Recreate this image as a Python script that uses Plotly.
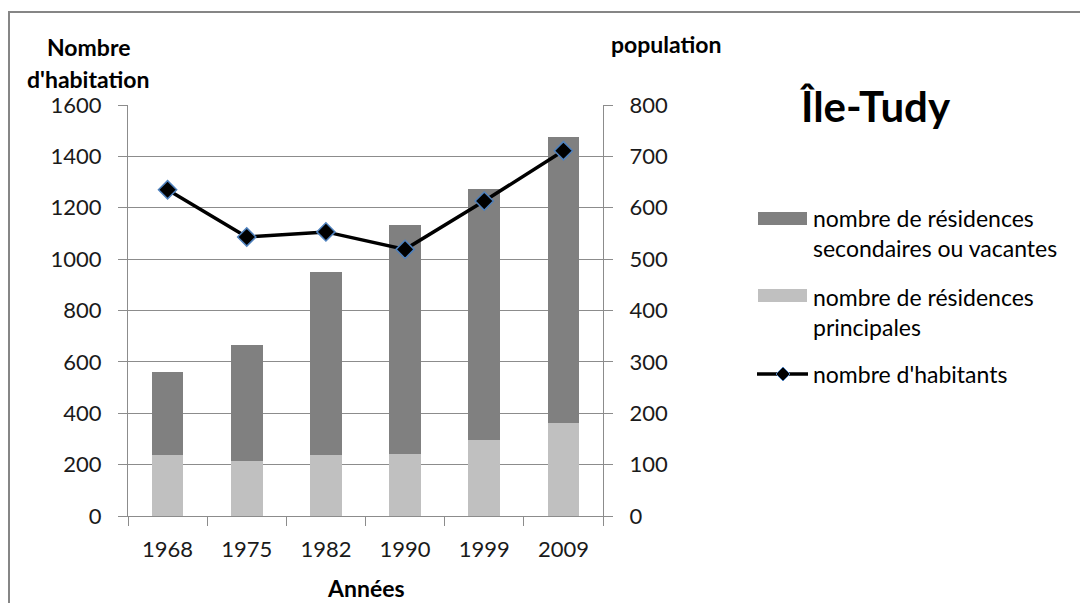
import plotly.graph_objects as go

annees = ["1968", "1975", "1982", "1990", "1999", "2009"]
res_principales = [238, 213, 238, 243, 295, 362]
res_secondaires = [322, 453, 713, 890, 978, 1113]
habitants = [635, 543, 553, 519, 613, 711]

FONT = "Lato"
GRID = "#8c8c8c"
TICKFONT = dict(family=FONT, size=22, color="#1a1a1a")

# plot area in pixels
L, R, T, B = 128, 603, 105, 516
W, H = 1080, 603


def px(x):
    return (x - L) / (R - L)


def py(y):
    return (B - y) / (B - T)


fig = go.Figure()
fig.add_trace(go.Bar(x=annees, y=res_principales, name="nombre de résidences principales",
                     marker=dict(color="#c0c0c0", line=dict(width=0)), yaxis="y"))
fig.add_trace(go.Bar(x=annees, y=res_secondaires, name="nombre de résidences secondaires ou vacantes",
                     marker=dict(color="#808080", line=dict(width=0)), yaxis="y"))
fig.add_trace(go.Scatter(x=annees, y=habitants, name="nombre d'habitants", yaxis="y2",
                         mode="lines+markers",
                         line=dict(color="black", width=3.5),
                         marker=dict(symbol="diamond", size=14, color="black",
                                     line=dict(color="#4f81bd", width=1.5))))

shapes = [
    # outer border
    dict(type="rect", xref="paper", yref="paper", x0=px(9), x1=px(1090), y0=py(12), y1=py(615),
         line=dict(color="#868686", width=2), fillcolor="rgba(0,0,0,0)", layer="below"),
    # legend swatches
    dict(type="rect", xref="paper", yref="paper", x0=px(758), x1=px(807), y0=py(212), y1=py(225),
         line=dict(width=0), fillcolor="#808080"),
    dict(type="rect", xref="paper", yref="paper", x0=px(758), x1=px(807), y0=py(289), y1=py(302),
         line=dict(width=0), fillcolor="#c0c0c0"),
    dict(type="line", xref="paper", yref="paper", x0=px(757), x1=px(808), y0=py(374), y1=py(374),
         line=dict(width=3.5, color="black")),
    dict(type="path", xref="paper", yref="paper", xsizemode="pixel", ysizemode="pixel",
         xanchor=px(783), yanchor=py(374),
         path="M 0 7 L 7 0 L 0 -7 L -7 0 Z", fillcolor="black",
         line=dict(color="#4f81bd", width=1)),
]

annotations = [
    dict(text="<b>Nombre</b>", x=px(88), y=py(47), xref="paper", yref="paper", showarrow=False,
         font=dict(family=FONT, size=23, color="black"), xanchor="center", yanchor="middle"),
    dict(text="<b>d'habitation</b>", x=px(88), y=py(79), xref="paper", yref="paper", showarrow=False,
         font=dict(family=FONT, size=23, color="black"), xanchor="center", yanchor="middle"),
    dict(text="<b>population</b>", x=px(666), y=py(44), xref="paper", yref="paper", showarrow=False,
         font=dict(family=FONT, size=23, color="black"), xanchor="center", yanchor="middle"),
    dict(text="<b>Années</b>", x=px(366), y=py(588), xref="paper", yref="paper", showarrow=False,
         font=dict(family=FONT, size=23, color="black"), xanchor="center", yanchor="middle"),
    dict(text="<b>Île-Tudy</b>", x=px(875), y=py(106), xref="paper", yref="paper", showarrow=False,
         font=dict(family=FONT, size=42, color="black"), xanchor="center", yanchor="middle"),
]
legend_lines = [
    ("nombre de résidences", 218), ("secondaires ou vacantes", 248),
    ("nombre de résidences", 297), ("principales", 327), ("nombre d'habitants", 374),
]
for txt, yy in legend_lines:
    annotations.append(dict(text=txt, x=px(811), y=py(yy), xref="paper", yref="paper", showarrow=False,
                            font=dict(family=FONT, size=23, color="black"),
                            xanchor="left", yanchor="middle"))

fig.update_layout(
    width=W, height=H,
    margin=dict(l=L, r=W - R, t=T, b=H - B, pad=0),
    paper_bgcolor="white", plot_bgcolor="white",
    barmode="stack", bargap=0.6,
    showlegend=False,
    font=dict(family=FONT, size=20, color="black"),
    xaxis=dict(type="category", range=[-0.5, 5.5], showline=True, linecolor=GRID, linewidth=1,
               ticks="outside", tickson="boundaries", ticklen=9, tickcolor=GRID,
               ticklabelstandoff=14,
               showgrid=False, tickfont=TICKFONT),
    yaxis=dict(range=[0, 1600], dtick=200, showline=True, linecolor=GRID, linewidth=1,
               ticks="outside", ticklen=9, tickcolor=GRID, showgrid=True, gridcolor=GRID,
               ticklabelstandoff=12,
               gridwidth=1, zeroline=False, tickfont=TICKFONT),
    yaxis2=dict(range=[0, 800], dtick=100, overlaying="y", side="right", showline=True,
                linecolor=GRID, linewidth=1, ticks="outside", ticklen=9, tickcolor=GRID,
                ticklabelstandoff=12,
                showgrid=False, zeroline=False, tickfont=TICKFONT),
    shapes=shapes,
    annotations=annotations,
)

fig.write_html("out.html")
